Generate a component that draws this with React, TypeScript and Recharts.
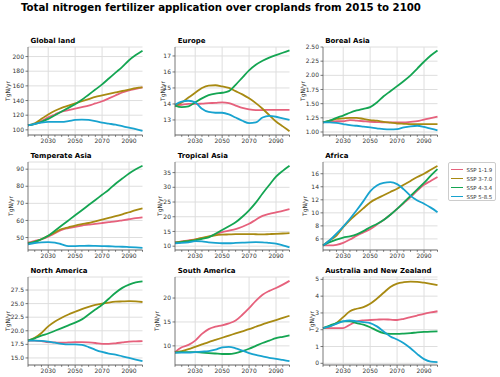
import React from "react";
import { CartesianGrid, Line, LineChart, XAxis, YAxis } from "recharts";

const YEARS = [2015, 2020, 2025, 2030, 2035, 2040, 2045, 2050, 2055, 2060, 2065, 2070, 2075, 2080, 2085, 2090, 2095, 2100];
const MAJOR_YEARS = [2030, 2050, 2070, 2090];

const SERIES = ["SSP 1-1.9", "SSP 3-7.0", "SSP 4-3.4", "SSP 5-8.5"];
const COLORS = ["#e6617c", "#a88a12", "#14a552", "#18a3cf"];

// each region: [ssp1-1.9, ssp3-7.0, ssp4-3.4, ssp5-8.5]
const GLOBAL_LAND = [
  [106, 108, 112, 117, 121, 125, 127, 129, 131, 133, 136, 139, 143, 147, 151, 154, 156, 158],
  [106, 109, 115, 121, 126, 130, 133, 136, 139, 142, 145, 147, 149, 151, 153, 155, 157, 158],
  [106, 108, 111, 115, 120, 125, 130, 135, 141, 148, 155, 162, 170, 178, 186, 195, 202, 208],
  [106, 108, 110, 111, 111, 111, 112, 113.5, 114, 113.5, 112, 110, 108.5, 107, 105, 103, 101, 98.5],
];
const EUROPE = [
  [13.9, 13.95, 14.0, 14.0, 14.02, 14.05, 14.07, 14.1, 14.05, 13.9, 13.75, 13.66, 13.62, 13.62, 13.63, 13.63, 13.63, 13.63],
  [13.9, 14.1, 14.4, 14.7, 15.0, 15.15, 15.17, 15.1, 15.0, 14.8, 14.6, 14.35, 14.05, 13.7, 13.3, 12.9, 12.6, 12.3],
  [13.9, 13.8, 13.85, 14.1, 14.35, 14.55, 14.65, 14.7, 14.8, 15.2, 15.65, 16.1, 16.45, 16.7, 16.9, 17.05, 17.2, 17.35],
  [13.95, 14.15, 14.2, 14.1, 13.7, 13.5, 13.45, 13.45, 13.35, 13.15, 12.95, 12.8, 12.85, 13.15, 13.25, 13.2, 13.1, 13.0],
];
const BOREAL_ASIA = [
  [1.17, 1.18, 1.19, 1.19, 1.21, 1.2, 1.19, 1.18, 1.175, 1.17, 1.17, 1.17, 1.17, 1.18, 1.19, 1.22, 1.245, 1.27],
  [1.17, 1.2, 1.23, 1.24, 1.25, 1.25, 1.23, 1.21, 1.2, 1.18, 1.165, 1.15, 1.145, 1.14, 1.14, 1.14, 1.14, 1.14],
  [1.17, 1.2, 1.25, 1.29, 1.34, 1.38, 1.41, 1.44, 1.52, 1.63, 1.72, 1.81, 1.9, 2.0, 2.12, 2.24, 2.35, 2.44],
  [1.17, 1.17, 1.16, 1.14, 1.12, 1.11, 1.095, 1.08, 1.065, 1.05, 1.045, 1.05, 1.08, 1.1, 1.11, 1.09, 1.06, 1.03],
];
const TEMPERATE_ASIA = [
  [47, 48, 49, 50.5, 52.5, 54.5, 55.5, 56.3, 57, 57.5, 58, 58.5, 59, 59.5, 60.1, 60.7, 61.3, 61.8],
  [46.5, 47.5, 49, 51, 53, 55, 56, 57, 57.8, 58.5, 59.5, 60.5, 61.5, 62.5, 63.6, 64.8, 66, 67],
  [46.5, 47.5, 49, 51, 54, 57, 60, 63, 66, 69, 72, 75, 78, 81.5, 84.5, 87.5, 90, 92],
  [46, 46.8, 47.2, 47.3, 47, 46, 45, 45, 45.1, 45.2, 45.1, 45, 44.9, 44.7, 44.6, 44.4, 44.2, 44],
];
const TROPICAL_ASIA = [
  [11.3, 11.6, 12, 12.3, 12.7, 13.2, 14, 14.8, 15.3, 15.8, 16.6, 17.6, 19, 20.3, 21, 21.5, 22, 22.6],
  [11.2, 11.5, 11.8, 12.2, 12.8, 13.3, 13.7, 13.9, 14, 14.1, 14.1, 14.1, 14.05, 14, 14.1, 14.2, 14.3, 14.4],
  [11.2, 11.4, 11.7, 12, 12.5, 13, 14.2, 15.5, 16.8, 18.1, 20, 22.2, 24.8, 27.9, 30.8, 33.6, 35.6, 37.3],
  [11.0, 11.1, 11.3, 11.7, 11.6, 11.3, 11.1, 11.0, 11.0, 11.1, 11.2, 11.3, 11.35, 11.3, 11.1, 10.9, 10.3, 9.6],
];
const AFRICA = [
  [5.0, 5.0, 5.1, 5.4, 5.9, 6.5, 7.0, 7.5, 8.2, 8.9, 9.7, 10.6, 11.5, 12.4, 13.4, 14.3, 14.9, 15.5],
  [5.0, 5.8, 6.5, 7.8, 8.9, 9.8, 10.7, 11.6, 12.2, 12.7, 13.2, 13.7, 14.3, 14.9, 15.5, 16.0, 16.6, 17.2],
  [5.0, 5.5, 5.9, 6.2, 6.4, 6.7, 7.2, 7.8, 8.3, 8.9, 9.7, 10.6, 11.6, 12.6, 13.6, 14.6, 15.7, 16.7],
  [5.0, 5.8, 6.8, 7.9, 9.1, 10.4, 11.8, 13.3, 14.2, 14.6, 14.7, 14.4, 13.6, 12.6, 11.9, 11.4, 10.8, 10.1],
];
const NORTH_AMERICA = [
  [18.2, 18.2, 18.1, 17.9, 17.85, 17.8, 17.85, 17.9, 17.9, 17.85, 17.75, 17.6, 17.6, 17.7, 17.85, 18.0, 18.05, 18.1],
  [18.2, 18.7, 19.6, 20.8, 21.7, 22.4, 23.0, 23.5, 24.0, 24.4, 24.75, 25.0, 25.2, 25.35, 25.4, 25.45, 25.4, 25.3],
  [18.2, 18.6, 19.1, 19.5, 20.0, 20.5, 21.0, 21.5, 22.1, 23.0, 23.9, 24.8, 25.9, 27.0, 27.9, 28.5, 28.9, 29.1],
  [18.2, 18.2, 18.15, 18.0, 17.8, 17.6, 17.5, 17.5, 17.4, 17.0, 16.5, 16.1, 15.8, 15.6, 15.3, 15.0, 14.7, 14.4],
];
const SOUTH_AMERICA = [
  [8.7, 9.7, 10.2, 11.1, 12.5, 13.5, 14.0, 14.3, 14.7, 15.3, 16.5, 17.9, 19.4, 20.7, 21.5, 22.1, 22.8, 23.6],
  [8.7, 8.9, 9.3, 9.8, 10.3, 10.8, 11.25, 11.7, 12.15, 12.6, 13.05, 13.5, 14.0, 14.5, 14.95, 15.4, 15.85, 16.3],
  [8.6, 8.7, 8.7, 8.7, 8.6, 8.5, 8.4, 8.3, 8.3, 8.5, 8.9, 9.4, 10.0, 10.6, 11.1, 11.6, 11.9, 12.2],
  [8.6, 8.6, 8.6, 8.7, 8.8, 8.9, 9.2, 9.7, 9.8, 9.5, 9.0, 8.5, 8.1, 7.8, 7.5, 7.3, 7.05, 6.8],
];
const AUS_NZ = [
  [2.1, 2.1, 2.1, 2.1, 2.3, 2.5, 2.56, 2.58, 2.6, 2.62, 2.6, 2.58, 2.65, 2.75, 2.85, 2.95, 3.03, 3.1],
  [2.1, 2.2, 2.4, 2.75, 3.1, 3.25, 3.35, 3.55, 3.85, 4.2, 4.55, 4.75, 4.83, 4.86, 4.85, 4.8, 4.73, 4.65],
  [2.1, 2.25, 2.4, 2.5, 2.5, 2.4, 2.3, 2.15, 1.95, 1.8, 1.75, 1.75, 1.77, 1.8, 1.84, 1.87, 1.89, 1.9],
  [2.1, 2.2, 2.35, 2.5, 2.55, 2.5, 2.45, 2.4, 2.2, 1.9, 1.6, 1.42, 1.2, 0.9, 0.55, 0.25, 0.1, 0.07],
];

const FONT = "'DejaVu Sans', sans-serif";
const AXIS_W = 28;
const PLOT_W = 114.5;
const PLOT_H = 88;
const TOP_M = 5;
const X_AXIS_H = 12;
const COL_X = [28, 175.3, 322.7];
const ROW_Y = [47.3, 162.3, 277];
const TICK_FONT = 6;

type Panel = {
  title: string;
  data: number[][];
  domain: [number, number];
  ticks: number[];
  digits: number;
  labelGap: number;
};

const PANELS: Panel[] = [
  { title: "Global land", data: GLOBAL_LAND, domain: [93, 213], ticks: [100, 120, 140, 160, 180, 200], digits: 0, labelGap: 21 },
  { title: "Europe", data: EUROPE, domain: [12.06, 17.56], ticks: [13, 14, 15, 16, 17], digits: 0, labelGap: 12.5 },
  { title: "Boreal Asia", data: BOREAL_ASIA, domain: [0.947, 2.5], ticks: [1, 1.25, 1.5, 1.75, 2, 2.25, 2.5], digits: 2, labelGap: 21 },
  { title: "Temperate Asia", data: TEMPERATE_ASIA, domain: [42.7, 94.2], ticks: [50, 60, 70, 80, 90], digits: 0, labelGap: 18 },
  { title: "Tropical Asia", data: TROPICAL_ASIA, domain: [8.7, 38.6], ticks: [10, 15, 20, 25, 30, 35], digits: 0, labelGap: 16 },
  { title: "Africa", data: AFRICA, domain: [4.3, 17.8], ticks: [6, 8, 10, 12, 14, 16], digits: 0, labelGap: 18.5 },
  { title: "North America", data: NORTH_AMERICA, domain: [13.7, 29.9], ticks: [15, 17.5, 20, 22.5, 25, 27.5], digits: 1, labelGap: 21 },
  { title: "South America", data: SOUTH_AMERICA, domain: [6.0, 24.4], ticks: [10, 15, 20], digits: 0, labelGap: 18.5 },
  { title: "Australia and New Zealand", data: AUS_NZ, domain: [-0.1, 5.14], ticks: [0, 1, 2, 3, 4, 5], digits: 0, labelGap: 12 },
];

const XTick = (props: any) => {
  const { x, y, payload } = props;
  const major = MAJOR_YEARS.includes(payload.value);
  return (
    <g>
      <line x1={x} x2={x} y1={y} y2={y + (major ? 3 : 1.8)} stroke="#555" strokeWidth={0.8} />
      {major && (
        <text x={x} y={y + 3.4} dy="0.72em" textAnchor="middle" fontSize={TICK_FONT} fill="#333" fontFamily={FONT}>
          {payload.value}
        </text>
      )}
    </g>
  );
};

function RegionChart({ panel, col, row }: { panel: Panel; col: number; row: number }) {
  const rows = YEARS.map((year, i) => {
    const r: Record<string, number> = { year };
    SERIES.forEach((s, k) => {
      r[s] = panel.data[k][i];
    });
    return r;
  });
  const left = COL_X[col] - AXIS_W;
  const top = ROW_Y[row] - TOP_M;
  return (
    <div style={{ position: "absolute", left, top }}>
      <div
        style={{
          position: "absolute",
          left: AXIS_W + 2.5,
          top: TOP_M - 10.5,
          fontFamily: FONT,
          fontWeight: "bold",
          fontSize: 7,
          lineHeight: "8px",
          whiteSpace: "nowrap",
          color: "#000",
          zIndex: 1,
        }}
      >
        {panel.title}
      </div>
      <LineChart
        width={AXIS_W + PLOT_W + 2}
        height={TOP_M + PLOT_H + X_AXIS_H}
        data={rows}
        margin={{ top: TOP_M, right: 2, bottom: 0, left: 0 }}
      >
        <CartesianGrid stroke="#dedede" strokeWidth={1} verticalValues={MAJOR_YEARS} />
        <XAxis
          dataKey="year"
          type="number"
          domain={[2015, 2100]}
          ticks={YEARS}
          interval={0}
          tick={<XTick />}
          tickLine={false}
          tickSize={0}
          tickMargin={0}
          height={X_AXIS_H}
          axisLine={{ stroke: "#555", strokeWidth: 0.8 }}
        />
        <XAxis xAxisId="top" orientation="top" type="number" domain={[2015, 2100]} tick={false} height={0} axisLine={{ stroke: "#555", strokeWidth: 0.8 }} />
        <YAxis
          type="number"
          domain={panel.domain}
          ticks={panel.ticks}
          interval={0}
          allowDataOverflow
          width={AXIS_W}
          tickSize={2.5}
          tickMargin={1.5}
          tickLine={{ stroke: "#555", strokeWidth: 0.8 }}
          axisLine={{ stroke: "#555", strokeWidth: 0.8 }}
          tick={{ fontSize: TICK_FONT, fill: "#333", fontFamily: FONT }}
          tickFormatter={(v: number) => v.toFixed(panel.digits)}
          label={{
            content: (p: any) => {
              const vb = p.viewBox;
              const cx = vb.x + vb.width - panel.labelGap;
              const cy = vb.y + vb.height / 2;
              return (
                <text
                  x={cx}
                  y={cy}
                  transform={`rotate(-90 ${cx} ${cy})`}
                  textAnchor="middle"
                  dominantBaseline="central"
                  fontSize={TICK_FONT}
                  fill="#333"
                  fontFamily={FONT}
                >
                  TgN/yr
                </text>
              );
            },
          }}
        />
        <YAxis yAxisId="right" orientation="right" width={0} tick={false} axisLine={{ stroke: "#555", strokeWidth: 0.8 }} />
        {SERIES.map((s, k) => (
          <Line
            key={s}
            type="monotone"
            dataKey={s}
            stroke={COLORS[k]}
            strokeWidth={1.8}
            dot={false}
            isAnimationActive={false}
          />
        ))}
      </LineChart>
    </div>
  );
}

export default function App() {
  return (
    <div style={{ position: "absolute", left: 0, top: 0, width: 500, height: 377, background: "#fff", fontFamily: FONT }}>
      <div
        style={{
          position: "absolute",
          left: 21,
          top: 2,
          fontSize: 10.2,
          fontWeight: "bold",
          lineHeight: "11px",
          whiteSpace: "nowrap",
          color: "#000",
        }}
      >
        Total nitrogen fertilizer application over croplands from 2015 to 2100
      </div>
      {PANELS.map((p, i) => (
        <RegionChart key={p.title} panel={p} col={i % 3} row={Math.floor(i / 3)} />
      ))}
      <div
        style={{
          position: "absolute",
          left: 447.5,
          top: 161.5,
          width: 48,
          height: 39,
          border: "0.8px solid #ccc",
          borderRadius: 2,
          boxSizing: "border-box",
          background: "#fff",
        }}
      >
        {SERIES.map((s, k) => (
          <div key={s} style={{ position: "absolute", left: 2, top: 4 + k * 9, height: 6, display: "flex", alignItems: "center" }}>
            <div style={{ width: 12, height: 1.8, background: COLORS[k] }} />
            <span style={{ marginLeft: 4, fontSize: 5.4, color: "#333", whiteSpace: "nowrap" }}>{s}</span>
          </div>
        ))}
      </div>
    </div>
  );
}
